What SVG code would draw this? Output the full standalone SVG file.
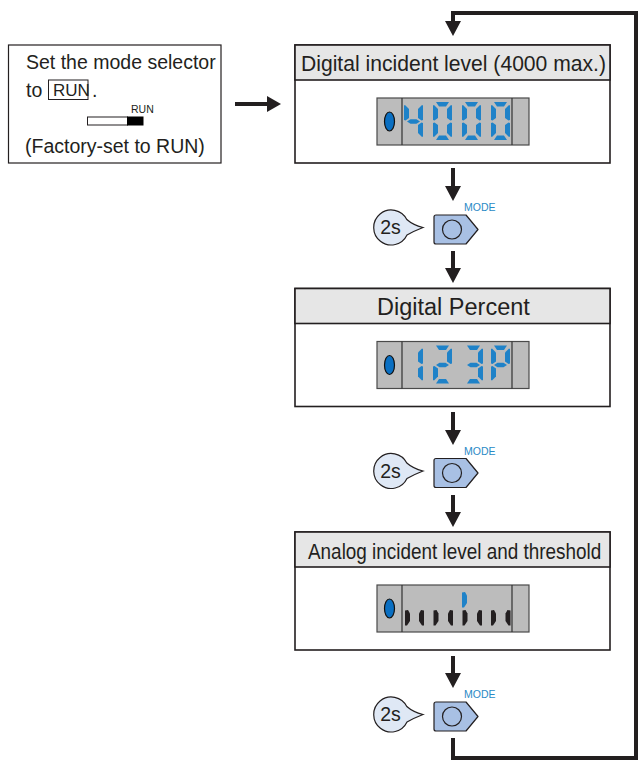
<svg xmlns="http://www.w3.org/2000/svg" width="643" height="768" viewBox="0 0 643 768">
<style>
text{font-family:"Liberation Sans",Arial,sans-serif;fill:#231f20}
.box{fill:#fff;stroke:#231f20;stroke-width:1.6}
.hdr{fill:#e6e6e6;stroke:#231f20;stroke-width:1.6}
.t{font-size:22px}
.disp{fill:#bcbcbc;stroke:#4a4a4a;stroke-width:1.2}
.div{stroke:#333;stroke-width:1.2}
.led{fill:#0a6fc2;stroke:#111;stroke-width:1.2}
.seg{fill:#1f82c8}
.flow{fill:none;stroke:#231f20;stroke-width:4}
.head{fill:#231f20}
.btn{fill:#a8c0e4;stroke:#231f20;stroke-width:1.2;stroke-linejoin:round}
.bub{fill:#dfe8f5;stroke:#231f20;stroke-width:1.2}
.mode{font-size:10.5px;fill:#2a8ac6}
.l{font-size:19.5px}
</style>
<defs>
<polygon id="a" points="3,0 16,0 13,4.500 6,4.500"/>
<polygon id="d" points="3,38 16,38 13,33.500 6,33.500"/>
<polygon id="f" points="0,3.500 1,3 5,7 5,16 1.500,18.500 0,18"/>
<polygon id="e" points="0,21 1.500,20.500 5,23 5,31 1,35 0,34.500"/>
<polygon id="b" points="19,3.500 18,3 14,7 14,16 17.500,18.500 19,18"/>
<polygon id="c" points="19,21 17.500,20.500 14,23 14,31 18,35 19,34.500"/>
<polygon id="g" points="3,19.500 6.500,17.300 12.500,17.300 16,19.500 12.500,21.700 6.500,21.700"/>
<g id="d0" class="seg"><use href="#a"/><use href="#b"/><use href="#c"/><use href="#d"/><use href="#e"/><use href="#f"/></g>
<polygon id="barL" points="0,0.500 3,0 5,3.500 5,11 2,15.500 0,15.500"/>
<polygon id="barR" points="5,0.500 2,0 0,3.500 0,11 3,15.500 5,15.500"/>
<g id="op">
<path class="bub" d="M406.800 219.500A17.500 17.500 0 1 0 407 235Q414 231 423 227.500Q413 225 406.800 219.500Z"/>
<text x="390.500" y="234" font-size="19.500" text-anchor="middle">2s</text>
<path class="btn" d="M436 215H466L478 229.500L466 244H436Q434 244 434 242V217Q434 215 436 215Z"/>
<circle class="btn" cx="452" cy="229.500" r="9.500"/>
<text class="mode" x="464" y="211">MODE</text>
</g>
<polygon id="ah" points="-8,0 8,0 0,15"/>
</defs>

<g id="connectors">
<path class="flow" d="M235 104H268"/><polygon class="head" points="267,96 281,104 267,112"/>
<path class="flow" d="M453 27V13H636V758H453V738"/><use href="#ah" class="head" x="453" y="21"/>
<path class="flow" d="M453 168V188"/><use href="#ah" class="head" x="453" y="186"/>
<path class="flow" d="M453 251V270"/><use href="#ah" class="head" x="453" y="268"/>
<path class="flow" d="M453 412V433"/><use href="#ah" class="head" x="453" y="430"/>
<path class="flow" d="M453 495V514"/><use href="#ah" class="head" x="453" y="512"/>
<path class="flow" d="M453 656V675"/><use href="#ah" class="head" x="453" y="673"/>
</g>

<g id="start">
<rect class="box" x="8.500" y="45" width="212.500" height="118" style="stroke-width:1.2"/>
<text class="l" x="26" y="69">Set the mode selector</text>
<text class="l" x="26" y="97">to</text>
<rect x="48.500" y="80" width="39.500" height="19.500" fill="#fff" stroke="#231f20"/>
<text x="53" y="96" style="font-size:17px">RUN</text>
<text class="l" x="92" y="97">.</text>
<text x="131" y="113" style="font-size:10.5px">RUN</text>
<rect x="87.500" y="117" width="40" height="8" fill="#fff" stroke="#231f20"/>
<rect x="127" y="116.500" width="16.500" height="9" fill="#000"/>
<text class="l" x="25" y="153">(Factory-set to RUN)</text>
</g>

<g id="mode1">
<rect class="box" x="295" y="45" width="315" height="118"/>
<rect class="hdr" x="295" y="45" width="315" height="35"/>
<text class="t" transform="translate(301,70.5) scale(.96,1)">Digital incident level (4000 max.)</text>
<rect class="disp" x="377" y="98" width="152" height="47"/>
<path class="div" d="M402 98V145M512 98V145"/>
<ellipse class="led" cx="389.500" cy="121.500" rx="5" ry="9.500"/>
<g class="seg" transform="translate(404,102)"><use href="#f"/><use href="#g"/><use href="#b"/><use href="#c"/></g>
<use href="#d0" x="433" y="102"/><use href="#d0" x="462" y="102"/><use href="#d0" x="491" y="102"/>
</g>

<use id="op1" href="#op"/>

<g id="mode2">
<rect class="box" x="295" y="288.500" width="315" height="118"/>
<rect class="hdr" x="295" y="288.500" width="315" height="35"/>
<text class="t" x="377" y="315" style="font-size:23.5px">Digital Percent</text>
<rect class="disp" x="377" y="341.500" width="152" height="47"/>
<path class="div" d="M402 341.500V388.500M512 341.500V388.500"/>
<ellipse class="led" cx="389.500" cy="365" rx="5" ry="9.500"/>
<g class="seg" transform="translate(404,345.500)"><use href="#b"/><use href="#c"/></g>
<g class="seg" transform="translate(433,345.500)"><use href="#a"/><use href="#b"/><use href="#g"/><use href="#e"/><use href="#d"/></g>
<g class="seg" transform="translate(464,345.500)"><use href="#a"/><use href="#b"/><use href="#g"/><use href="#c"/><use href="#d"/></g>
<g class="seg" transform="translate(491,345.500)"><use href="#a"/><use href="#b"/><use href="#f"/><use href="#g"/><use href="#e"/></g>
</g>

<use id="op2" href="#op" y="243.500"/>

<g id="mode3">
<rect class="box" x="295" y="532" width="315" height="118"/>
<rect class="hdr" x="295" y="532" width="315" height="35"/>
<text class="t" transform="translate(308,559) scale(.86,1)">Analog incident level and threshold</text>
<rect class="disp" x="377" y="585" width="152" height="47"/>
<path class="div" d="M402 585V632M512 585V632"/>
<ellipse class="led" cx="389.500" cy="608.500" rx="5" ry="9.500"/>
<use href="#barL" x="462" y="592" class="seg"/>
<g fill="#231f20">
<use href="#barL" x="405" y="610"/><use href="#barR" x="419" y="610"/><use href="#barL" x="433.500" y="610"/><use href="#barR" x="448" y="610"/><use href="#barL" x="462.500" y="610"/><use href="#barR" x="477" y="610"/><use href="#barL" x="491" y="610"/><use href="#barR" x="505.500" y="610"/>
</g>
</g>

<use id="op3" href="#op" y="487"/>
</svg>
